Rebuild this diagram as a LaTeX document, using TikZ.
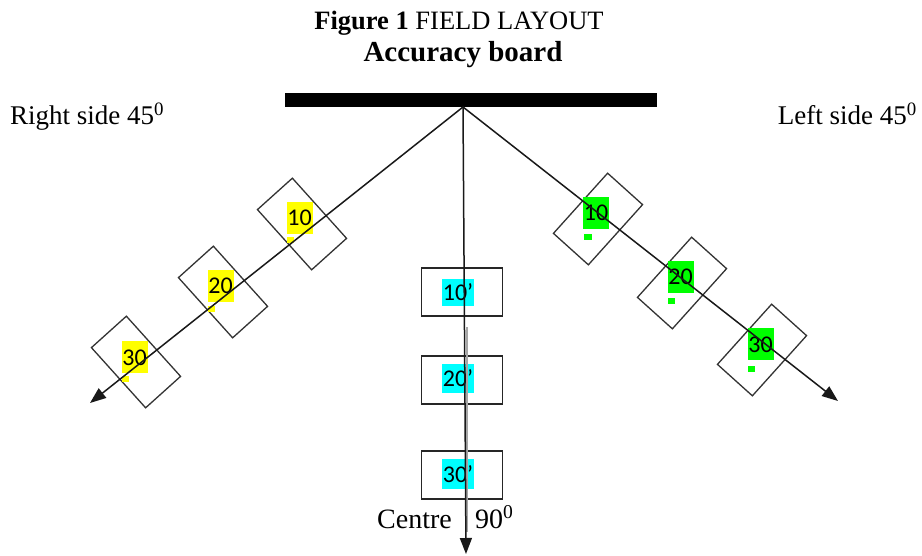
\documentclass[tikz,border=0pt]{standalone}
\usepackage{fontspec}
\setmainfont{Liberation Serif}
\newfontfamily\calfont{Carlito}
\usetikzlibrary{arrows.meta}
\definecolor{hlyellow}{RGB}{255,255,0}
\definecolor{hlgreen}{RGB}{0,255,0}
\definecolor{hlcyan}{RGB}{0,255,255}
\tikzset{
  sidebox/.style={draw=black!80, line width=1.3pt, minimum width=81pt, minimum height=47pt, inner sep=0pt},
  cbox/.style={draw=black!85, line width=1.3pt, minimum width=81pt, minimum height=48pt, inner sep=0pt},
  hl/.style={font=\calfont\fontsize{24}{24}\selectfont, inner sep=0pt, minimum width=26pt, minimum height=32pt, text depth=0pt},
  smallmk/.style={inner sep=0pt, minimum width=7pt, minimum height=6pt},
  mainline/.style={line width=1.5pt, black!90},
  tip/.style={-{Triangle[length=16pt,width=12pt]}},
  lbl/.style={font=\fontsize{27}{27}\selectfont, inner sep=0pt, text=black},
}
\begin{document}
\begin{tikzpicture}[x=1pt,y=-1pt]
\useasboundingbox (0,0) rectangle (922,556);
% titles
\node[font=\fontsize{26.5}{26.5}\selectfont, anchor=base, inner sep=0pt] (title) at (459,30) {\textbf{Figure 1} FIELD LAYOUT};
\node[font=\bfseries\fontsize{29}{29}\selectfont, anchor=base, inner sep=0pt] (board) at (463,62) {Accuracy board};
% board bar
\node[fill=black, minimum width=372pt, minimum height=14pt, inner sep=0pt] (bar) at (471,100) {};
\coordinate (apex) at (463,107);
% side labels
\node[lbl, anchor=base west] (rs) at (10,125) {Right side 45\textsuperscript{0}};
\node[lbl, anchor=base east] (ls) at (917,125) {Left side 45\textsuperscript{0}};
\node[lbl, font=\fontsize{28}{28}\selectfont, anchor=base east] (cl) at (452,528) {Centre};
\node[lbl, font=\fontsize{28}{28}\selectfont, anchor=base west] (cn) at (475,528) {90\textsuperscript{0}};
% left boxes
\node[sidebox, rotate=-48] (L1) at (302,224) {};
\node[sidebox, rotate=-48] (L2) at (223,292) {};
\node[sidebox, rotate=-48] (L3) at (136,362) {};
% right boxes
\node[sidebox, rotate=48] (R1) at (598,219) {};
\node[sidebox, rotate=48] (R2) at (682,283) {};
\node[sidebox, rotate=48] (R3) at (762,350) {};
% centre boxes
\node[cbox] (C1) at (462,292) {};
\node[cbox] (C2) at (462,380) {};
\node[cbox] (C3) at (462,475) {};
% highlighted labels
\node[hl, fill=hlyellow] (tL1) at (299.5,218) {10};
\node[hl, fill=hlyellow] (tL2) at (220.5,286) {20};
\node[hl, fill=hlyellow] (tL3) at (134.5,357.5) {30};
\node[smallmk, fill=hlyellow] (mL1) at (290,240) {};
\node[smallmk, fill=hlyellow] (mL2) at (211.5,309) {};
\node[smallmk, fill=hlyellow] (mL3) at (125,379) {};
\node[hl, fill=hlgreen] (tR1) at (596,213) {10};
\node[hl, fill=hlgreen] (tR2) at (680.5,277) {20};
\node[hl, fill=hlgreen] (tR3) at (760.5,344.5) {30};
\node[smallmk, fill=hlgreen, minimum width=8pt] (mR1) at (588,237.5) {};
\node[smallmk, fill=hlgreen] (mR2) at (671.5,301.5) {};
\node[smallmk, fill=hlgreen] (mR3) at (751.5,369.5) {};
\node[hl, fill=hlcyan, minimum width=32pt, minimum height=27pt] (tC1) at (458,292.5) {10’};
\node[hl, fill=hlcyan, minimum width=32pt, minimum height=29pt] (tC2) at (458,378.5) {20’};
\node[hl, fill=hlcyan, minimum width=32pt, minimum height=30pt] (tC3) at (458,474) {30’};
% lines
\coordinate (tipL) at (90,403);
\coordinate (tipR) at (838,401);
\coordinate (tipC) at (466,554);
\coordinate (g1) at (467,327);
\coordinate (g2) at (467,532);
\draw[line width=1.5pt, black!35] (g1) -- (g2);
\draw[mainline, tip] (apex) -- (tipL);
\draw[mainline, tip] (apex) -- (tipR);
\draw[mainline, tip] (apex) -- (tipC);
\end{tikzpicture}
\end{document}
